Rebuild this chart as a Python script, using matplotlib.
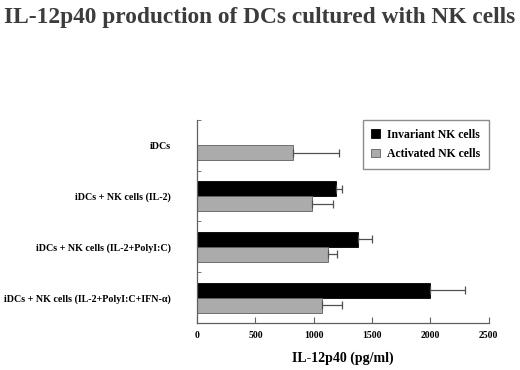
import matplotlib
matplotlib.use("Agg")
import matplotlib.pyplot as plt
import numpy as np

categories = [
    "iDCs",
    "iDCs + NK cells (IL-2)",
    "iDCs + NK cells (IL-2+PolyI:C)",
    "iDCs + NK cells (IL-2+PolyI:C+IFN-\u03b1)",
]
invariant = [np.nan, 1190, 1375, 2000]
invariant_err = [np.nan, 55, 120, 300]
activated = [825, 985, 1120, 1070]
activated_err = [390, 180, 75, 170]

plt.rcParams["font.family"] = ["Liberation Serif", "DejaVu Serif"]
plt.rcParams["font.weight"] = "bold"

fig = plt.figure(figsize=(5.2, 3.7), dpi=100)
ax = fig.add_axes([0.379, 0.127, 0.561, 0.549])

y = np.arange(len(categories))
h = 0.295
err_kw = dict(ecolor="#505050", capsize=3, elinewidth=0.9, capthick=0.9)
zeros = [0] * len(categories)

ax.barh(y - h / 2, invariant, height=h, xerr=[zeros, invariant_err], color="black",
        edgecolor="black", linewidth=0.6, error_kw=err_kw, label="Invariant NK cells")
ax.barh(y + h / 2, activated, height=h, xerr=[zeros, activated_err], color="#ababab",
        edgecolor="#606060", linewidth=0.6, error_kw=err_kw, label="Activated NK cells")

ax.set_ylim(len(categories) - 0.5, -0.5)
ax.set_xlim(0, 2500)
ax.set_xticks([0, 500, 1000, 1500, 2000, 2500])
ax.set_yticks(y)
ax.set_yticklabels(categories, fontsize=7.2, fontweight="bold")
ax.set_yticks(np.arange(-0.5, len(categories), 1), minor=True)
ax.tick_params(axis="y", which="major", length=0, pad=19)
ax.tick_params(axis="y", which="minor", direction="in", length=3, color="#606060")
ax.tick_params(axis="x", direction="in", length=4, color="#606060", labelsize=7, pad=6)
for lab in ax.get_xticklabels():
    lab.set_fontweight("bold")

for side in ("top", "right"):
    ax.spines[side].set_visible(False)
for side in ("left", "bottom"):
    ax.spines[side].set_color("#606060")
    ax.spines[side].set_linewidth(0.9)

ax.set_xlabel("IL-12p40 (pg/ml)", fontsize=10, fontweight="bold", labelpad=8)

leg = ax.legend(loc="upper right", bbox_to_anchor=(1.0, 1.0), borderaxespad=0,
                fontsize=8.5, frameon=True, fancybox=False, edgecolor="#707070",
                handlelength=0.7, handleheight=0.7, borderpad=0.75,
                labelspacing=0.65, handletextpad=0.6)
leg.get_frame().set_linewidth(1.0)

fig.text(0.5, 0.952, "IL-12p40 production of DCs cultured with NK cells",
         ha="center", va="center", fontsize=16.8, fontweight="bold", color="#3c3c3c")

fig.savefig("out.png", dpi=100)
